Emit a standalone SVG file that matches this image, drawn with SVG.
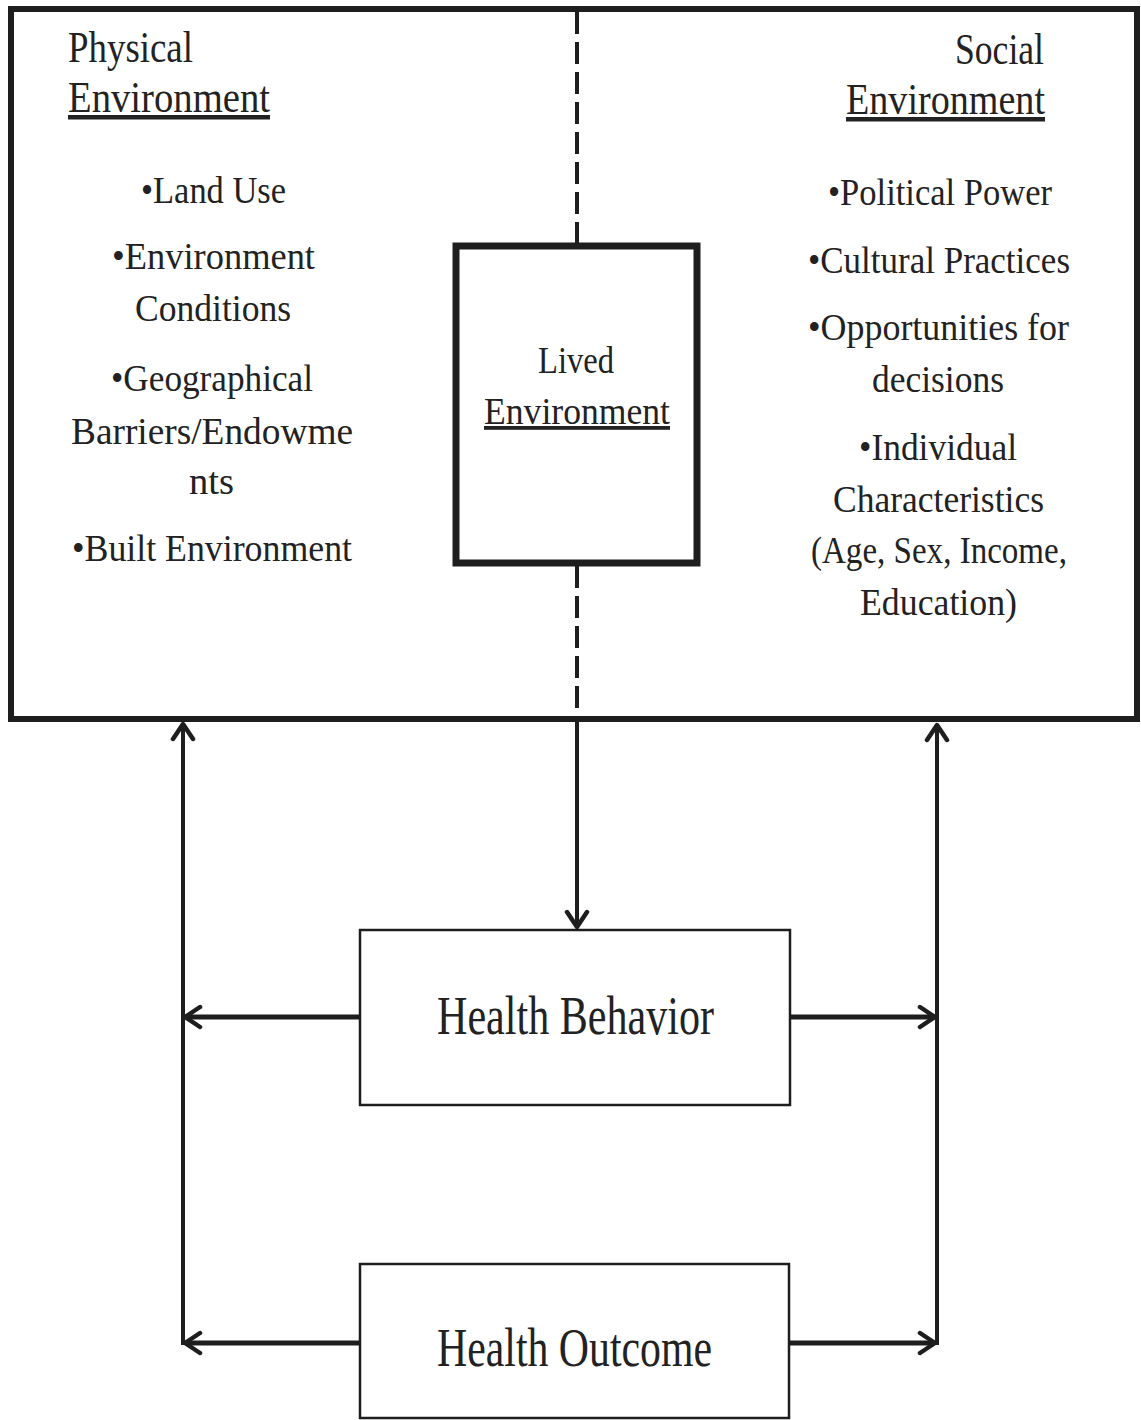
<svg xmlns="http://www.w3.org/2000/svg" width="1141" height="1420" viewBox="0 0 1141 1420">
<style>
.t{font-family:"Liberation Serif","Times New Roman",serif;fill:#222;}
.h{font-size:45px;}
.b{font-size:38px;}
.big{font-size:54px;}
.u{text-decoration:underline;}
.box{fill:#fff;stroke:#1e1e1e;}
.ln{stroke:#1e1e1e;fill:none;}
</style>
<defs>
<marker id="arr" viewBox="0 0 22 26" refX="19" refY="13" markerWidth="22" markerHeight="26" markerUnits="userSpaceOnUse" orient="auto">
<path d="M4,3 L19,13 L4,23" fill="none" stroke="#1e1e1e" stroke-width="4.5" stroke-linecap="round" stroke-linejoin="round"/>
</marker>
</defs>
<rect width="1141" height="1420" fill="#fff"/>

<g id="environment">
<rect class="box" x="11" y="9" width="1126" height="710" stroke-width="6"/>
</g>

<g id="physical-environment">
<text class="t h" x="68" y="62" textLength="125" lengthAdjust="spacingAndGlyphs">Physical</text>
<text class="t h u" x="68" y="112" textLength="202" lengthAdjust="spacingAndGlyphs">Environment</text>
<text class="t b" x="141" y="203" textLength="145" lengthAdjust="spacingAndGlyphs">•Land Use</text>
<text class="t b" x="112" y="269" textLength="203" lengthAdjust="spacingAndGlyphs">•Environment</text>
<text class="t b" x="135" y="321" textLength="156" lengthAdjust="spacingAndGlyphs">Conditions</text>
<text class="t b" x="111" y="391" textLength="202" lengthAdjust="spacingAndGlyphs">•Geographical</text>
<text class="t b" x="71" y="444" textLength="282" lengthAdjust="spacingAndGlyphs">Barriers/Endowme</text>
<text class="t b" x="189" y="494" textLength="45" lengthAdjust="spacingAndGlyphs">nts</text>
<text class="t b" x="72" y="561" textLength="280" lengthAdjust="spacingAndGlyphs">•Built Environment</text>
</g>

<g id="social-environment">
<text class="t h" x="955" y="64" textLength="89" lengthAdjust="spacingAndGlyphs">Social</text>
<text class="t h u" x="846" y="114" textLength="199" lengthAdjust="spacingAndGlyphs">Environment</text>
<text class="t b" x="828" y="205" textLength="224" lengthAdjust="spacingAndGlyphs">•Political Power</text>
<text class="t b" x="808" y="273" textLength="262" lengthAdjust="spacingAndGlyphs">•Cultural Practices</text>
<text class="t b" x="808" y="340" textLength="261" lengthAdjust="spacingAndGlyphs">•Opportunities for</text>
<text class="t b" x="872" y="392" textLength="132" lengthAdjust="spacingAndGlyphs">decisions</text>
<text class="t b" x="859" y="460" textLength="158" lengthAdjust="spacingAndGlyphs">•Individual</text>
<text class="t b" x="833" y="512" textLength="211" lengthAdjust="spacingAndGlyphs">Characteristics</text>
<text class="t b" x="811" y="563" textLength="256" lengthAdjust="spacingAndGlyphs">(Age, Sex, Income,</text>
<text class="t b" x="860" y="615" textLength="157" lengthAdjust="spacingAndGlyphs">Education)</text>
</g>

<g id="connectors">
<line class="ln" x1="577" y1="12" x2="577" y2="245" stroke-width="4" stroke-dasharray="22 8"/>
<line class="ln" x1="577" y1="566" x2="577" y2="717" stroke-width="4" stroke-dasharray="22 8"/>
<line class="ln" x1="577" y1="722" x2="577" y2="927" stroke-width="4" marker-end="url(#arr)"/>
<line class="ln" x1="183" y1="1345" x2="183" y2="724" stroke-width="4" marker-end="url(#arr)"/>
<line class="ln" x1="937" y1="1345" x2="937" y2="725" stroke-width="4" marker-end="url(#arr)"/>
<line class="ln" x1="360" y1="1017" x2="185" y2="1017" stroke-width="5" marker-end="url(#arr)"/>
<line class="ln" x1="360" y1="1343" x2="185" y2="1343" stroke-width="5" marker-end="url(#arr)"/>
<line class="ln" x1="790" y1="1017" x2="935" y2="1017" stroke-width="5" marker-end="url(#arr)"/>
<line class="ln" x1="790" y1="1343" x2="935" y2="1343" stroke-width="5" marker-end="url(#arr)"/>
</g>

<g id="lived-environment">
<rect class="box" x="456" y="246" width="241" height="317" stroke-width="7"/>
<text class="t b" x="538" y="373" textLength="76" lengthAdjust="spacingAndGlyphs">Lived</text>
<text class="t b u" x="484" y="424" textLength="186" lengthAdjust="spacingAndGlyphs">Environment</text>
</g>

<g id="health-behavior">
<rect class="box" x="360" y="930" width="430" height="175" stroke-width="2.5"/>
<text class="t big" x="437" y="1034" textLength="277" lengthAdjust="spacingAndGlyphs">Health Behavior</text>
</g>

<g id="health-outcome">
<rect class="box" x="360" y="1264" width="429" height="154" stroke-width="2.5"/>
<text class="t big" x="437" y="1366" textLength="275" lengthAdjust="spacingAndGlyphs">Health Outcome</text>
</g>
</svg>
